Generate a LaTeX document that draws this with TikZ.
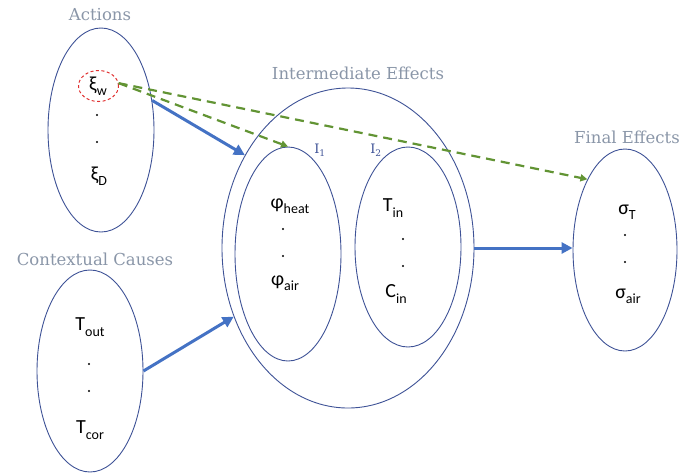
\documentclass[tikz,border=0pt]{standalone}
\usepackage{fontspec}
\setmainfont{DejaVu Serif}
\newfontfamily\symf{Carlito}
\usetikzlibrary{shapes.geometric,arrows.meta}
\definecolor{edgec}{RGB}{62,82,150}
\definecolor{labc}{RGB}{138,150,168}
\definecolor{arrb}{RGB}{68,114,196}
\definecolor{arrg}{RGB}{98,148,52}
\definecolor{redd}{RGB}{225,50,50}
\newcommand\sbs[1]{\raisebox{-0.55ex}{\fontsize{14pt}{14pt}\selectfont #1}}
\tikzset{
  set/.style={draw=edgec, line width=0.9pt, ellipse, inner sep=0pt},
  lab/.style={text=labc, font=\fontsize{16.5pt}{18pt}\selectfont, inner sep=0pt},
  ilab/.style={text=edgec, font=\fontsize{13pt}{14pt}\selectfont, inner sep=0pt},
  sym/.style={font=\symf\fontsize{20pt}{22pt}\selectfont, inner sep=0pt},
  bluearr/.style={draw=arrb, line width=3pt, -{Triangle[length=11pt,width=11pt]}},
  greenarr/.style={draw=arrg, line width=2.2pt, dash pattern=on 9pt off 6pt, -{Triangle[length=7pt,width=7pt]}},
}
\begin{document}
\begin{tikzpicture}[x=1pt,y=-1pt]
\useasboundingbox (0,0) rectangle (685,475);
% sets
\node[set, minimum width=106pt, minimum height=204pt] (act) at (101,130) {};
\node[set, minimum width=106pt, minimum height=202pt] (ctx) at (90,371) {};
\node[set, minimum width=252pt, minimum height=320pt] (big) at (348,248) {};
\node[set, minimum width=106pt, minimum height=214pt] (i1) at (288,254) {};
\node[set, minimum width=106pt, minimum height=200pt] (i2) at (408,247) {};
\node[set, minimum width=104pt, minimum height=202pt] (fin) at (625,250) {};
% labels
\node[lab] (lact) at (100,15) {Actions};
\node[lab] (lctx) at (95,259) {Contextual Causes};
\node[lab] (lint) at (358,73) {Intermediate Effects};
\node[lab] (lfin) at (627,137) {Final Effects};
\node[ilab] (li1) at (320,150) {I\textsubscript{1}};
\node[ilab] (li2) at (376,150) {I\textsubscript{2}};
% actions contents
\node[draw=redd, line width=1pt, dash pattern=on 3pt off 2.5pt, ellipse, minimum width=40pt, minimum height=31pt, inner sep=0pt] (wc) at (98.5,86) {};
\node[sym] (xw) at (98,86) {ξ\sbs{w}};
\fill (97,115) circle (1.1);
\fill (97,142) circle (1.1);
\node[sym] (xd) at (99,176) {ξ\sbs{D}};
% contextual contents
\node[sym] (tout) at (90,327) {T\sbs{out}};
\fill (89,364) circle (1.1);
\fill (89,391) circle (1.1);
\node[sym] (tcor) at (90,430) {T\sbs{cor}};
% I1 contents
\node[sym] (phh) at (290,206) {φ\sbs{heat}};
\fill (283,229) circle (1.1);
\fill (283,256) circle (1.1);
\node[sym] (pha) at (285,283) {φ\sbs{air}};
% I2 contents
\node[sym] (tin) at (393,208) {T\sbs{in}};
\fill (403,239) circle (1.1);
\fill (403,266) circle (1.1);
\node[sym] (cin) at (396,294) {C\sbs{in}};
% final contents
\node[sym] (st) at (627,212) {σ\sbs{T}};
\fill (625,235) circle (1.1);
\fill (625,262) circle (1.1);
\node[sym] (sa) at (628,296) {σ\sbs{air}};
% arrows
\draw[bluearr] (act.30) -- (big.138.5);
\draw[bluearr] (ctx.0) -- (big.211.5);
\draw[bluearr] (big.east) -- (big.east -| fin.west);
\draw[greenarr] (wc.8) -- (i1.north);
\draw[greenarr] (wc.8) -- (fin.118);
\end{tikzpicture}
\end{document}
